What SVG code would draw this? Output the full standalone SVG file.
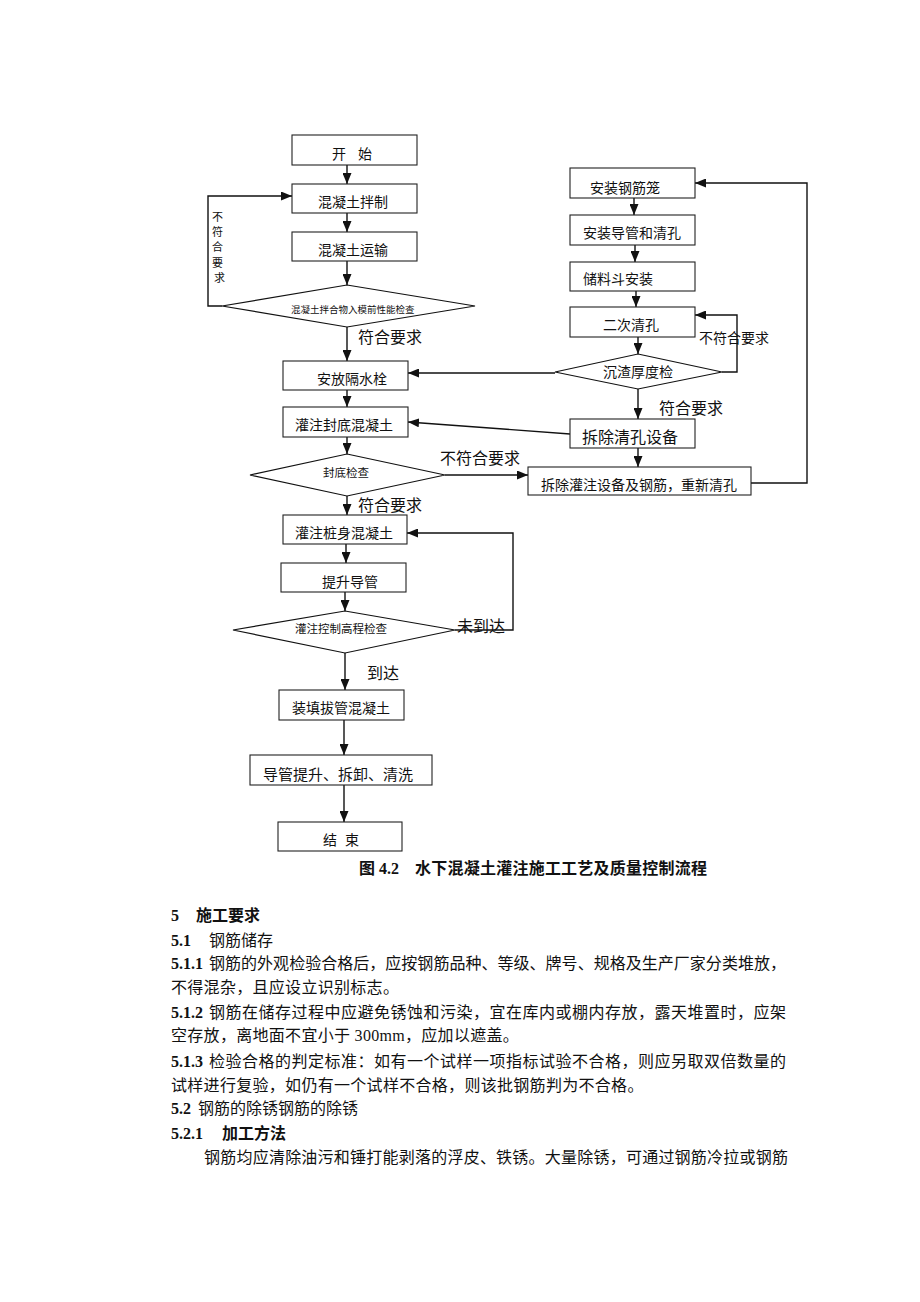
<svg xmlns="http://www.w3.org/2000/svg" width="920" height="1302" viewBox="0 0 920 1302">
<style>
.box{fill:#fff;stroke:#222;stroke-width:1.1}
.dia{fill:#fff;stroke:#111;stroke-width:1.2}
.ln{fill:none;stroke:#111;stroke-width:1.4}
.t{font-family:"Liberation Serif","Noto Sans CJK SC",serif;fill:#111}
.f14{font-size:14px}
.f16{font-size:16px}
.b{font-weight:bold}
</style>
<defs>
<marker id="ah" markerUnits="userSpaceOnUse" markerWidth="11" markerHeight="9" refX="11" refY="4.5" orient="auto">
<path d="M0,0 L11,4.5 L0,9 z" fill="#111"/>
</marker>
</defs>
<rect width="920" height="1302" fill="#fff"/>

<g id="connectors">
<path class="ln" d="M347,165 V184" marker-end="url(#ah)"/>
<path class="ln" d="M347,213 V232" marker-end="url(#ah)"/>
<path class="ln" d="M347,261 V285" marker-end="url(#ah)"/>
<path class="ln" d="M222,306 H208 V196 H292" marker-end="url(#ah)"/>
<path class="ln" d="M347,327 V361" marker-end="url(#ah)"/>
<path class="ln" d="M555,373 H408" marker-end="url(#ah)"/>
<path class="ln" d="M347,390 V407" marker-end="url(#ah)"/>
<path class="ln" d="M570,434 L408,422" marker-end="url(#ah)"/>
<path class="ln" d="M347,437 V454" marker-end="url(#ah)"/>
<path class="ln" d="M445,475 H528" marker-end="url(#ah)"/>
<path class="ln" d="M347,496 V515" marker-end="url(#ah)"/>
<path class="ln" d="M346,544 V563" marker-end="url(#ah)"/>
<path class="ln" d="M345,592 V611" marker-end="url(#ah)"/>
<path class="ln" d="M455,630 H513 V533 H407" marker-end="url(#ah)"/>
<path class="ln" d="M345,653 V690" marker-end="url(#ah)"/>
<path class="ln" d="M344,720 V755" marker-end="url(#ah)"/>
<path class="ln" d="M344,785 V822" marker-end="url(#ah)"/>
<path class="ln" d="M634,198 V215" marker-end="url(#ah)"/>
<path class="ln" d="M635,245 V262" marker-end="url(#ah)"/>
<path class="ln" d="M636,291 V307" marker-end="url(#ah)"/>
<path class="ln" d="M638,337 V354" marker-end="url(#ah)"/>
<path class="ln" d="M638,389 V419" marker-end="url(#ah)"/>
<path class="ln" d="M638,448 V467" marker-end="url(#ah)"/>
<path class="ln" d="M722,372 H737 V315 H695" marker-end="url(#ah)"/>
<path class="ln" d="M751,483 H807 V183 H695" marker-end="url(#ah)"/>
</g>

<g id="n-start"><rect class="box" x="292" y="135" width="125" height="30"/><text class="t f14" x="332 358" y="159">开始</text></g>
<g id="n-mix"><rect class="box" x="292" y="184" width="125" height="29"/><text class="t f14" x="318" y="207">混凝土拌制</text></g>
<g id="n-trans"><rect class="box" x="292" y="232" width="125" height="29"/><text class="t f14" x="318" y="255">混凝土运输</text></g>
<g id="n-check1"><polygon class="dia" points="347,285 475,306 347,327 222,306"/><text class="t" style="font-size:9.5px" x="291" y="313">混凝土拌合物入模前性能检查</text></g>
<g id="lbl-fail1"><text class="t" style="font-size:11px" x="212 212 212 212 214" y="221 236 251 267 282">不符合要求</text></g>
<g id="lbl-ok1"><text class="t f16" x="358" y="343">符合要求</text></g>
<g id="n-plug"><rect class="box" x="283" y="361" width="125" height="29"/><text class="t f14" x="317" y="384">安放隔水栓</text></g>
<g id="n-seal"><rect class="box" x="283" y="407" width="125" height="30"/><text class="t f14" x="295" y="430">灌注封底混凝土</text></g>
<g id="n-check2"><polygon class="dia" points="347,454 445,475 347,496 250,475"/><text class="t" style="font-size:11.5px" x="323" y="477">封底检查</text></g>
<g id="lbl-fail2"><text class="t f16" x="440" y="464">不符合要求</text></g>
<g id="lbl-ok2"><text class="t f16" x="358" y="511">符合要求</text></g>
<g id="n-body"><rect class="box" x="283" y="515" width="124" height="29"/><text class="t f14" x="295" y="538">灌注桩身混凝土</text></g>
<g id="n-lift"><rect class="box" x="281" y="563" width="125" height="29"/><text class="t f14" x="322" y="587">提升导管</text></g>
<g id="n-check3"><polygon class="dia" points="345,611 455,630 345,653 233,630"/><text class="t" style="font-size:11.5px" x="295" y="633">灌注控制高程检查</text></g>
<g id="lbl-notyet"><text class="t f16" x="457" y="632">未到达</text></g>
<g id="lbl-reach"><text class="t f16" x="367" y="679">到达</text></g>
<g id="n-fill"><rect class="box" x="279" y="690" width="125" height="30"/><text class="t f14" x="292" y="713">装填拔管混凝土</text></g>
<g id="n-pipe"><rect class="box" x="250" y="755" width="182" height="30"/><text class="t" style="font-size:15px" x="263" y="780">导管提升、拆卸、清洗</text></g>
<g id="n-end"><rect class="box" x="278" y="822" width="124" height="29"/><text class="t f14" x="323 345" y="845">结束</text></g>

<g id="n-cage"><rect class="box" x="570" y="168" width="125" height="30"/><text class="t f14" x="590" y="193">安装钢筋笼</text></g>
<g id="n-tube"><rect class="box" x="570" y="215" width="125" height="30"/><text class="t f14" x="583" y="238">安装导管和清孔</text></g>
<g id="n-hopper"><rect class="box" x="570" y="262" width="125" height="29"/><text class="t f14" x="583" y="284">储料斗安装</text></g>
<g id="n-clean2"><rect class="box" x="570" y="307" width="125" height="30"/><text class="t f14" x="603" y="330">二次清孔</text></g>
<g id="lbl-fail3"><text class="t f14" x="699" y="343">不符合要求</text></g>
<g id="n-sed"><polygon class="dia" points="638,354 722,372 638,389 555,372"/><text class="t f14" x="603" y="377">沉渣厚度检</text></g>
<g id="lbl-ok3"><text class="t f16" x="659" y="414">符合要求</text></g>
<g id="n-remove"><rect class="box" x="570" y="419" width="125" height="29"/><text class="t f16" x="582" y="443">拆除清孔设备</text></g>
<g id="n-redo"><rect class="box" x="528" y="467" width="223" height="28"/><text class="t f14" x="541" y="490">拆除灌注设备及钢筋，重新清孔</text></g>

<g id="caption">
<text class="t f16 b" x="359" y="874">图 4.2</text>
<text class="t f16 b" x="415" y="874" textLength="292" lengthAdjust="spacing">水下混凝土灌注施工工艺及质量控制流程</text>
</g>

<g id="body-text">
<text class="t f16 b" x="171" y="921">5</text>
<text class="t f16 b" x="196" y="921">施工要求</text>
<text class="t f16 b" x="171" y="946">5.1</text>
<text class="t f16" x="209" y="946">钢筋储存</text>
<text class="t f16 b" x="171" y="969">5.1.1</text>
<text class="t f16" x="209" y="969" textLength="577" lengthAdjust="spacing">钢筋的外观检验合格后，应按钢筋品种、等级、牌号、规格及生产厂家分类堆放，</text>
<text class="t f16" x="171" y="993" letter-spacing="0.3">不得混杂，且应设立识别标志。</text>
<text class="t f16 b" x="171" y="1018">5.1.2</text>
<text class="t f16" x="209" y="1018" textLength="577" lengthAdjust="spacing">钢筋在储存过程中应避免锈蚀和污染，宜在库内或棚内存放，露天堆置时，应架</text>
<text class="t f16" x="171" y="1041" letter-spacing="0.3">空存放，离地面不宜小于 300mm，应加以遮盖。</text>
<text class="t f16 b" x="171" y="1067">5.1.3</text>
<text class="t f16" x="209" y="1067" textLength="577" lengthAdjust="spacing">检验合格的判定标准：如有一个试样一项指标试验不合格，则应另取双倍数量的</text>
<text class="t f16" x="171" y="1091" letter-spacing="0.3">试样进行复验，如仍有一个试样不合格，则该批钢筋判为不合格。</text>
<text class="t f16 b" x="171" y="1114">5.2</text>
<text class="t f16" x="198" y="1114">钢筋的除锈钢筋的除锈</text>
<text class="t f16 b" x="171" y="1139">5.2.1</text>
<text class="t f16 b" x="222" y="1139">加工方法</text>
<text class="t f16" x="204" y="1163" textLength="584" lengthAdjust="spacing">钢筋均应清除油污和锤打能剥落的浮皮、铁锈。大量除锈，可通过钢筋冷拉或钢筋</text>
</g>
</svg>
